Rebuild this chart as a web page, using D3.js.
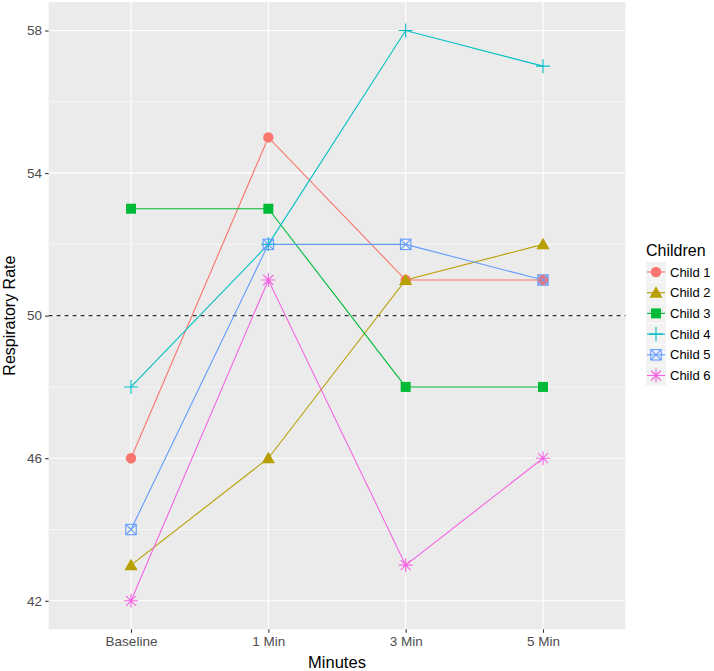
<!DOCTYPE html>
<html><head><meta charset="utf-8">
<script src="https://cdn.jsdelivr.net/npm/d3@7"></script>
<style>body{margin:0;background:#fff;}text{font-family:"Liberation Sans",Arial,sans-serif;}</style>
</head><body>
<svg id="c" width="714" height="671"></svg>
<script>
const categories = ["Baseline", "1 Min", "3 Min", "5 Min"];
const children = ["Child 1", "Child 2", "Child 3", "Child 4", "Child 5", "Child 6"];
const child1 = [46, 55, 51, 51];
const child2 = [43, 46, 51, 52];
const child3 = [53, 53, 48, 48];
const child4 = [48, 52, 58, 57];
const child5 = [44, 52, 52, 51];
const child6 = [42, 51, 43, 46];
const yTicks = [42, 46, 50, 54, 58];
const yMinor = [44, 48, 52, 56];
const refLine = 50;
const colors = ["#F8766D", "#B79F00", "#00BA38", "#00BFC4", "#619CFF", "#F564E3"];
const shapes = ["circle", "triangle", "square", "plus", "boxx", "asterisk"];
const seriesValues = [child1, child2, child3, child4, child5, child6];

const svg = d3.select("#c");
const L = 48.6, R = 625.4, T = 2, B = 629.3;
const x = d3.scalePoint().domain(categories).range([L, R]).padding(0.6);
const y = d3.scaleLinear().domain([41.2, 58.8]).range([B, T]);

svg.append("rect").attr("x", L).attr("y", T).attr("width", R - L).attr("height", B - T).attr("fill", "#EBEBEB");
const g = svg.append("g");
yMinor.forEach(v => g.append("line").attr("x1", L).attr("x2", R).attr("y1", y(v)).attr("y2", y(v)).attr("stroke", "#fff").attr("stroke-width", 0.55));
yTicks.forEach(v => g.append("line").attr("x1", L).attr("x2", R).attr("y1", y(v)).attr("y2", y(v)).attr("stroke", "#fff").attr("stroke-width", 1.1));
categories.forEach(c => g.append("line").attr("x1", x(c)).attr("x2", x(c)).attr("y1", T).attr("y2", B).attr("stroke", "#fff").attr("stroke-width", 1.1));

// axes
const yAxis = d3.axisLeft(y).tickValues(yTicks).tickSize(3.5).tickPadding(3);
const ya = svg.append("g").attr("transform", `translate(${L},0)`).call(yAxis);
const xAxis = d3.axisBottom(x).tickSize(3.5).tickPadding(4);
const xa = svg.append("g").attr("transform", `translate(0,${B})`).call(xAxis);
[ya, xa].forEach(a => {
  a.select(".domain").remove();
  a.selectAll(".tick line").attr("stroke", "#333").attr("stroke-width", 1.1);
  a.selectAll(".tick text").attr("fill", "#4D4D4D").style("font-size", "13.5px").style("font-family", "Liberation Sans, Arial, sans-serif");
});

// reference line
svg.append("line").attr("x1", L).attr("x2", R).attr("y1", y(refLine)).attr("y2", y(refLine))
  .attr("stroke", "#333").attr("stroke-width", 1.1).attr("stroke-dasharray", "4,4");

function drawShape(sel, shape, col, cx, cy) {
  const gg = sel.append("g").attr("transform", `translate(${cx},${cy})`);
  if (shape === "circle") gg.append("circle").attr("r", 5.2).attr("fill", col);
  else if (shape === "triangle") gg.append("path").attr("d", "M0,-6.5L6.6,5L-6.6,5Z").attr("fill", col);
  else if (shape === "square") gg.append("rect").attr("x", -5).attr("y", -5).attr("width", 10).attr("height", 10).attr("fill", col);
  else if (shape === "plus") gg.append("path").attr("d", "M-7,0H7M0,-7V7").attr("stroke", col).attr("stroke-width", 1.1).attr("fill", "none");
  else if (shape === "boxx") {
    gg.append("rect").attr("x", -5.2).attr("y", -5.2).attr("width", 10.4).attr("height", 10.4).attr("stroke", col).attr("stroke-width", 1.1).attr("fill", "none");
    gg.append("path").attr("d", "M-5.2,-5.2L5.2,5.2M-5.2,5.2L5.2,-5.2").attr("stroke", col).attr("stroke-width", 1.1);
  } else if (shape === "asterisk") {
    gg.append("path").attr("d", "M-7,0H7M0,-7V7M-5,-5L5,5M-5,5L5,-5").attr("stroke", col).attr("stroke-width", 1.1).attr("fill", "none");
  }
}

const line = d3.line().x((d, i) => x(categories[i])).y(d => y(d));
seriesValues.forEach((vals, k) => {
  svg.append("path").datum(vals).attr("d", line).attr("fill", "none").attr("stroke", colors[k]).attr("stroke-width", 1.1);
});
seriesValues.forEach((vals, k) => {
  vals.forEach((v, i) => drawShape(svg, shapes[k], colors[k], x(categories[i]), y(v)));
});

// axis titles
svg.append("text").attr("x", (L + R) / 2).attr("y", 668).attr("text-anchor", "middle").style("font-size", "16.5px").attr("fill", "#000").text("Minutes");
svg.append("text").attr("transform", `translate(15,${(T + B) / 2}) rotate(-90)`).attr("text-anchor", "middle").style("font-size", "16px").attr("fill", "#000").text("Respiratory Rate");

// legend
const lg = svg.append("g");
lg.append("text").attr("x", 646).attr("y", 256).style("font-size", "16px").attr("fill", "#000").text("Children");
children.forEach((c, k) => {
  const cy = 272 + k * 20.7;
  lg.append("rect").attr("x", 646).attr("y", cy - 10).attr("width", 20).attr("height", 20).attr("fill", "#F2F2F2");
  lg.append("line").attr("x1", 647).attr("x2", 665).attr("y1", cy).attr("y2", cy).attr("stroke", colors[k]).attr("stroke-width", 1.1);
  drawShape(lg, shapes[k], colors[k], 656, cy);
  lg.append("text").attr("x", 670).attr("y", cy + 4.5).style("font-size", "13px").attr("fill", "#000").text(c);
});
</script>
</body></html>
